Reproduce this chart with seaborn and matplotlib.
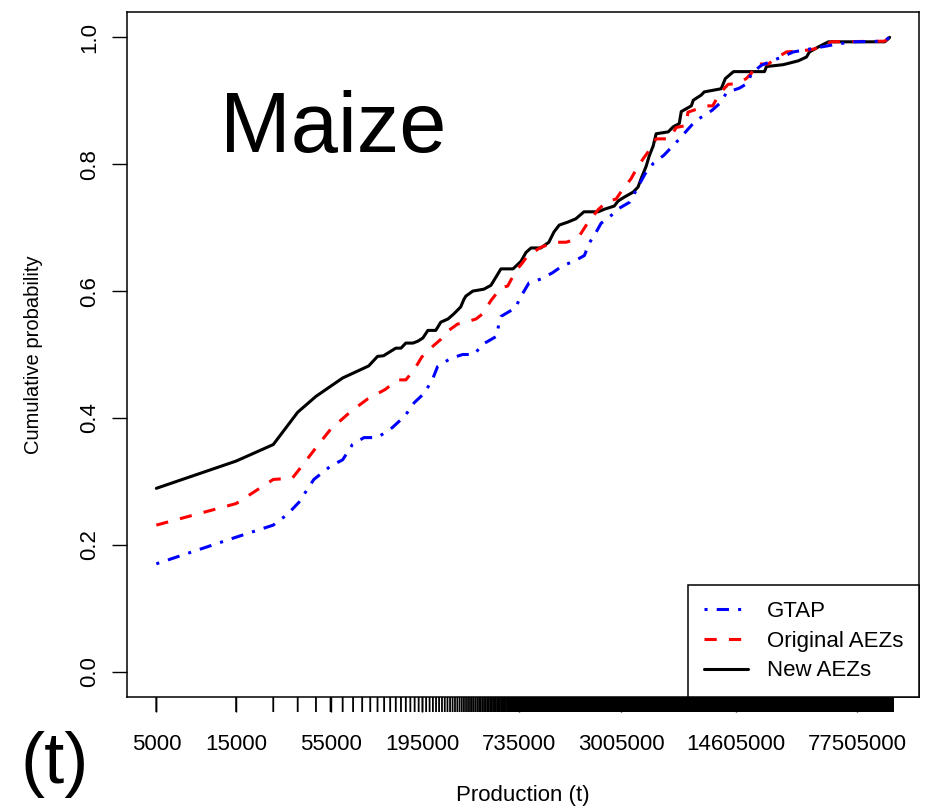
import numpy as np
import matplotlib
matplotlib.use("Agg")
import matplotlib.pyplot as plt
import seaborn as sns
from matplotlib.transforms import blended_transform_factory

sns.set_style("white")
plt.rcParams['font.family'] = ['Liberation Sans', 'DejaVu Sans']
plt.rcParams['text.color'] = 'black'
plt.rcParams['axes.labelcolor'] = 'black'
plt.rcParams['xtick.color'] = 'black'
plt.rcParams['ytick.color'] = 'black'

# ---------------- data ----------------
series_names = ["GTAP", "Original AEZs", "New AEZs"]

new_x = [5000, 15000, 25000, 35000, 45000, 65000, 93000, 105000, 114000, 135000,
         145000, 155000, 171000, 183000, 196000, 210000, 234000, 251000, 277000, 300000,
         330000, 345000, 354000, 390000, 454000, 500000, 536000, 574000, 678000, 757000,
         811000, 869000, 995000, 1110000, 1190000, 1280000, 1450000, 1610000, 1800000, 2190000,
         2380000, 2730000, 2880000, 3130000, 3540000, 3790000, 3950000, 4240000, 4420000, 4670000,
         4860000, 5740000, 6150000, 6680000, 6870000, 7890000, 8110000, 9040000, 9420000, 11900000,
         12600000, 14100000, 21600000, 22200000, 28000000, 34400000, 38500000, 40100000, 45400000, 52100000,
         113000000, 119000000, 121000000]
new_y = [0.289, 0.332, 0.358, 0.409, 0.434, 0.463, 0.482, 0.497, 0.498, 0.510,
         0.510, 0.518, 0.518, 0.521, 0.526, 0.538, 0.538, 0.551, 0.556, 0.564,
         0.575, 0.587, 0.592, 0.600, 0.603, 0.609, 0.622, 0.635, 0.635, 0.647,
         0.661, 0.668, 0.668, 0.677, 0.693, 0.704, 0.709, 0.714, 0.725, 0.725,
         0.729, 0.734, 0.742, 0.748, 0.756, 0.764, 0.777, 0.797, 0.813, 0.829,
         0.848, 0.851, 0.859, 0.864, 0.883, 0.892, 0.901, 0.909, 0.914, 0.919,
         0.935, 0.946, 0.946, 0.954, 0.957, 0.963, 0.969, 0.977, 0.985, 0.993,
         0.993, 0.998, 1.0]

orig_x = [5000, 15000, 25000, 32500, 37300, 45900, 55000, 72600, 91700, 117000,
          138000, 155000, 174000, 193000, 214000, 251000, 280000, 316000, 346000, 407000,
          446000, 500000, 574000, 630000, 706000, 774000, 830000, 995000, 1200000, 1410000,
          1610000, 1690000, 1900000, 2200000, 2500000, 2800000, 3080000, 3440000, 3610000, 4050000,
          4340000, 4860000, 5850000, 6410000, 7360000, 7530000, 9680000, 10600000, 11600000, 13100000,
          14700000, 16800000, 18000000, 19100000, 22800000, 24900000, 29200000, 39500000, 43200000, 49500000,
          54300000, 113000000, 121000000]
orig_y = [0.231, 0.265, 0.303, 0.305, 0.325, 0.356, 0.382, 0.410, 0.430, 0.445,
          0.460, 0.460, 0.476, 0.496, 0.508, 0.524, 0.538, 0.548, 0.550, 0.556,
          0.564, 0.585, 0.605, 0.608, 0.632, 0.645, 0.656, 0.669, 0.677, 0.677,
          0.682, 0.687, 0.708, 0.729, 0.742, 0.745, 0.761, 0.777, 0.787, 0.808,
          0.819, 0.840, 0.840, 0.858, 0.861, 0.882, 0.892, 0.892, 0.911, 0.926,
          0.927, 0.935, 0.943, 0.958, 0.958, 0.966, 0.977, 0.980, 0.982, 0.988,
          0.993, 0.994, 1.0]

gtap_x = [5000, 15000, 25000, 30400, 35600, 43700, 55000, 65000, 74300, 87100,
          105000, 129000, 153000, 174000, 200000, 224000, 240000, 288000, 339000, 397000,
          446000, 543000, 561000, 574000, 706000, 738000, 845000, 995000, 1170000, 1340000,
          1570000, 1810000, 1940000, 2130000, 2280000, 2640000, 2900000, 3370000, 3640000, 4180000,
          4700000, 5400000, 6710000, 7410000, 8330000, 10500000, 11900000, 12800000, 15300000, 17200000,
          18000000, 20700000, 28500000, 32100000, 57800000, 71600000, 113000000, 120000000]
gtap_y = [0.170, 0.212, 0.231, 0.248, 0.267, 0.303, 0.324, 0.334, 0.358, 0.369,
          0.369, 0.385, 0.403, 0.424, 0.439, 0.461, 0.481, 0.494, 0.500, 0.500,
          0.516, 0.529, 0.553, 0.560, 0.574, 0.587, 0.613, 0.619, 0.629, 0.640,
          0.647, 0.656, 0.676, 0.693, 0.707, 0.720, 0.730, 0.740, 0.756, 0.785,
          0.802, 0.814, 0.840, 0.853, 0.868, 0.885, 0.898, 0.913, 0.920, 0.928,
          0.943, 0.956, 0.971, 0.977, 0.989, 0.993, 0.994, 1.0]

x_tick_labels = [5000, 15000, 55000, 195000, 735000, 3005000, 14605000, 77505000]
x_tick_start, x_tick_step, x_tick_stop = 5000, 10000, 126000000
y_ticks = [0.0, 0.2, 0.4, 0.6, 0.8, 1.0]

# ---------------- figure ----------------
W, H = 930, 809
fig = plt.figure(figsize=(W / 100, H / 100), dpi=100)
L, R, T, B = 127, 919, 12, 697
ax = fig.add_axes([L / W, 1 - B / H, (R - L) / W, (B - T) / H])

lw = 2.2
l_new = sns.lineplot(x=new_x, y=new_y, ax=ax, color="black", lw=lw,
                     estimator=None, sort=False).lines[-1]
l_orig = sns.lineplot(x=orig_x, y=orig_y, ax=ax, color="#FF0000", lw=lw,
                      linestyle=(0, (4, 4)), estimator=None, sort=False).lines[-1]
l_gtap = sns.lineplot(x=gtap_x, y=gtap_y, ax=ax, color="#0000FF", lw=lw,
                      linestyle=(0, (1, 3, 4, 3)), estimator=None, sort=False).lines[-1]

ax.set_xscale("log")
all_x = np.array(new_x + orig_x + gtap_x, dtype=float)
lo, hi = np.log10(all_x.min()), np.log10(all_x.max())
pad = 0.04 * (hi - lo)
ax.set_xlim(10 ** (lo - pad), 10 ** (hi + pad))
ax.set_ylim(-0.04, 1.04)

for s in ax.spines.values():
    s.set_color("black")
    s.set_linewidth(1.1)

# x axis: labelled ticks + dense rug of ticks every 10000
ax.set_xticks(x_tick_labels)
ax.set_xticklabels([str(v) for v in x_tick_labels])
ax.xaxis.set_minor_locator(matplotlib.ticker.NullLocator())
ax.tick_params(axis="x", length=10.5, width=1.0, labelsize=16, pad=16, color="black",
               bottom=True)
dense = np.arange(x_tick_start, x_tick_stop, x_tick_step)
trans = blended_transform_factory(ax.transData, ax.transAxes)
tick_frac = 15.0 / (B - T)
rug = ax.vlines(dense, -tick_frac, 0, transform=trans, colors="black", lw=1.3,
                clip_on=False)
rug.set_snap(False)

ax.set_yticks(y_ticks)
ax.set_yticklabels([f"{v:.1f}" for v in y_ticks], rotation=90, va="center")
ax.tick_params(axis="y", length=10.5, width=1.0, labelsize=16, pad=9, color="black",
               left=True)

ax.set_xlabel("Production (t)", fontsize=16, labelpad=22)
ax.set_ylabel("Cumulative probability", fontsize=14.5, labelpad=26)

ax.text(0.26, 0.828, "Maize", transform=ax.transAxes, fontsize=61,
        ha="center", va="center", color="black")
fig.text(55 / W, 1 - 764 / H, "(t)", fontsize=52, ha="center", va="center",
         color="black")

leg = ax.legend(handles=[l_gtap, l_orig, l_new], labels=series_names,
                loc="lower right", bbox_to_anchor=(1, 0), borderaxespad=0,
                frameon=True, fancybox=False, edgecolor="black", framealpha=1,
                fontsize=16, handlelength=2.0, handletextpad=0.85,
                labelspacing=0.4, borderpad=0.7)
leg.get_frame().set_linewidth(1.1)

fig.savefig("out.png", dpi=100)
